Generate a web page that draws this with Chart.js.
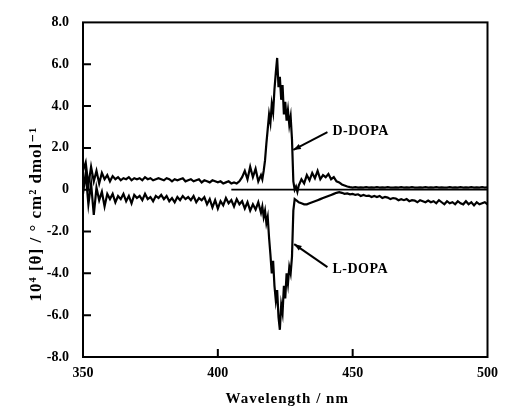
<!DOCTYPE html>
<html>
<head>
<meta charset="utf-8">
<script src="https://cdn.jsdelivr.net/npm/chart.js@4"></script>
<style>
  html, body { margin: 0; padding: 0; background: #fff; }
  #wrap { width: 506px; height: 410px; }
</style>
</head>
<body>
<div id="wrap"><canvas id="cdChart" width="506" height="410"></canvas></div>
<script>
// wavelength grid (nm), finer around the 420-430 nm band
const wavelength = [
  350, 351, 352, 353, 354, 355, 356, 357, 358, 359,
  360, 361, 362, 363, 364, 365, 366, 367, 368, 369,
  370, 371, 372, 373, 374, 375, 376, 377, 378, 379,
  380, 381, 382, 383, 384, 385, 386, 387, 388, 389,
  390, 391, 392, 393, 394, 395, 396, 397, 398, 399,
  400, 401, 402, 403, 404, 405, 406, 407, 408, 409,
  410, 411, 412, 413, 414, 415, 416,
  416.5, 417, 417.5, 418, 418.5, 419, 419.5, 420, 420.5, 421,
  421.5, 422, 422.5, 423, 423.5, 424, 424.5, 425, 425.5, 426,
  426.5, 427, 427.5, 428, 428.5, 429, 429.5,
  430, 431, 432, 433, 434, 435, 436, 437, 438, 439,
  440, 441, 442, 443, 444, 445, 446, 447, 448, 449,
  450, 451, 452, 453, 454, 455, 456, 457, 458, 459,
  460, 461, 462, 463, 464, 465, 466, 467, 468, 469,
  470, 471, 472, 473, 474, 475, 476, 477, 478, 479,
  480, 481, 482, 483, 484, 485, 486, 487, 488, 489,
  490, 491, 492, 493, 494, 495, 496, 497, 498, 499, 500
];

// 10^4 [theta]
const dDopa = [
  0.9, 1.3, 0.2, 1.1, 0.4, 0.9, 0.3, 0.8, 0.5, 0.7,
  0.4, 0.65, 0.5, 0.6, 0.45, 0.55, 0.5, 0.6, 0.45, 0.55,
  0.5, 0.55, 0.45, 0.6, 0.5, 0.55, 0.45, 0.5, 0.55, 0.5,
  0.45, 0.55, 0.5, 0.4, 0.5, 0.45, 0.5, 0.55, 0.4, 0.45,
  0.5, 0.4, 0.45, 0.5, 0.35, 0.45, 0.4, 0.35, 0.45, 0.4,
  0.35, 0.4, 0.3, 0.35, 0.4, 0.3, 0.35, 0.3, 0.4, 0.6,
  0.9, 0.5, 1.1, 0.6, 1.0, 0.4, 0.7,
  0.5, 0.9, 1.4, 2.2, 2.9, 3.6, 3.2, 4.1, 3.7, 4.8,
  5.6, 6.3, 4.9, 5.4, 4.3, 5.0, 3.6, 4.2, 3.3, 3.8,
  3.1, 3.5, 2.4, 0.4, 0.0, 0.15, -0.1,
  0.2, 0.5, 0.3, 0.7, 0.45, 0.8, 0.55, 0.9, 0.5, 0.7,
  0.6, 0.75, 0.5, 0.6, 0.4, 0.35, 0.25, 0.2, 0.15, 0.12,
  0.1, 0.12, 0.1, 0.11, 0.1, 0.12, 0.1, 0.11, 0.1, 0.12,
  0.1, 0.11, 0.1, 0.12, 0.1, 0.1, 0.11, 0.1, 0.12, 0.1,
  0.11, 0.1, 0.12, 0.1, 0.1, 0.11, 0.1, 0.12, 0.1, 0.11,
  0.1, 0.12, 0.1, 0.11, 0.1, 0.1, 0.12, 0.1, 0.11, 0.1,
  0.12, 0.1, 0.11, 0.1, 0.12, 0.1, 0.11, 0.1, 0.12, 0.1, 0.11
];

const lDopa = [
  -0.2, 0.8, -0.7, 0.3, -1.2, 0.1, -0.5, -0.1, -0.8, -0.2,
  -0.45, -0.2, -0.6, -0.3, -0.45, -0.2, -0.55, -0.3, -0.65, -0.25,
  -0.4, -0.3, -0.5, -0.2, -0.45, -0.35, -0.55, -0.3, -0.4, -0.25,
  -0.45, -0.3, -0.55, -0.4, -0.6, -0.35, -0.5, -0.3, -0.45, -0.35,
  -0.5, -0.3, -0.6, -0.4, -0.5, -0.35, -0.7, -0.45, -0.85, -0.5,
  -0.9, -0.55, -0.75, -0.4, -0.65, -0.5, -0.8, -0.45, -0.7, -0.55,
  -0.9, -0.6, -1.0, -0.7, -0.95, -0.6, -1.1,
  -0.8, -1.3, -1.0, -1.6, -1.3, -2.3, -3.1, -4.0, -3.4, -4.6,
  -5.3, -4.8, -6.1, -6.7, -5.5, -5.9, -4.6, -5.2, -4.0, -4.5,
  -3.7, -4.0, -3.2, -1.0, -0.45, -0.5, -0.55,
  -0.6, -0.65, -0.7, -0.7, -0.65, -0.6, -0.55, -0.5, -0.45, -0.4,
  -0.35, -0.3, -0.25, -0.2, -0.15, -0.12, -0.15, -0.2, -0.18, -0.22,
  -0.2, -0.25, -0.22, -0.3, -0.25, -0.3, -0.28, -0.35, -0.3, -0.35,
  -0.3, -0.4, -0.35, -0.38, -0.45, -0.4, -0.42, -0.5, -0.45, -0.5,
  -0.45, -0.55, -0.5, -0.52, -0.6, -0.5, -0.55, -0.6, -0.52, -0.6,
  -0.55, -0.65, -0.5, -0.6, -0.7, -0.55, -0.65, -0.6, -0.7, -0.55,
  -0.65, -0.7, -0.55, -0.7, -0.6, -0.75, -0.6, -0.7, -0.65, -0.6, -0.7
];

// zero reference line
const zeroX = [405, 500];
const zeroY = [0, 0];

const xTicks = [350, 400, 450, 500];
const xTickLabels = ['350', '400', '450', '500'];
const yTicks = [-8, -6, -4, -2, 0, 2, 4, 6, 8];
const yTickLabels = ['-8.0', '-6.0', '-4.0', '-2.0', '0', '2.0', '4.0', '6.0', '8.0'];

const FONT = "'Liberation Serif', 'DejaVu Serif', serif";

function toPoints(xs, ys) {
    return xs.map((w, i) => ({ x: w, y: ys[i] }));
}

// frame, inward ticks, titles and the arrow labels
const decorPlugin = {
    id: 'decor',
    afterDraw(chart) {
        const ctx = chart.ctx;
        const area = chart.chartArea;
        const xs = chart.scales.x;
        const ys = chart.scales.y;
        ctx.save();
        ctx.strokeStyle = '#000';
        ctx.lineWidth = 2;
        ctx.strokeRect(area.left, area.top, area.right - area.left, area.bottom - area.top);

        ctx.lineWidth = 2;
        ctx.beginPath();
        yTicks.slice(1, -1).forEach(v => {
            const py = ys.getPixelForValue(v);
            ctx.moveTo(area.left, py);
            ctx.lineTo(area.left + 8, py);
        });
        xTicks.slice(1, -1).forEach(v => {
            const px = xs.getPixelForValue(v);
            ctx.moveTo(px, area.bottom);
            ctx.lineTo(px, area.bottom - 8);
        });
        ctx.stroke();

        ctx.fillStyle = '#000';
        ctx.textAlign = 'center';
        ctx.textBaseline = 'middle';
        ctx.font = 'bold 15px ' + FONT;
        ctx.letterSpacing = '1px';
        ctx.fillText('Wavelength / nm', (area.left + area.right) / 2 + 2, 399);

        ctx.save();
        ctx.translate(37, 214);
        ctx.rotate(-Math.PI / 2);
        ctx.font = 'bold 17px ' + FONT;
        ctx.letterSpacing = '1px';
        ctx.fillText('10\u2074 [\u03B8] / \u00B0 cm\u00B2 dmol\u207B\u00B9', 0, 0);
        ctx.restore();

        // annotations
        ctx.font = 'bold 14px ' + FONT;
        ctx.letterSpacing = '0.5px';
        ctx.textAlign = 'left';
        const dx = xs.getPixelForValue(442.5), dy = ys.getPixelForValue(2.8);
        const lx = xs.getPixelForValue(442.5), ly = ys.getPixelForValue(-3.8);
        ctx.fillText('D-DOPA', dx, dy);
        ctx.fillText('L-DOPA', lx, ly);
        ctx.letterSpacing = '0px';

        function arrow(x1, y1, x2, y2) {
            ctx.lineWidth = 2;
            ctx.beginPath();
            ctx.moveTo(x1, y1);
            ctx.lineTo(x2, y2);
            ctx.stroke();
            const a = Math.atan2(y2 - y1, x2 - x1);
            ctx.beginPath();
            ctx.moveTo(x2, y2);
            ctx.lineTo(x2 - 8 * Math.cos(a - 0.35), y2 - 8 * Math.sin(a - 0.35));
            ctx.lineTo(x2 - 8 * Math.cos(a + 0.35), y2 - 8 * Math.sin(a + 0.35));
            ctx.closePath();
            ctx.fill();
        }
        arrow(dx - 5, dy + 1, xs.getPixelForValue(428), ys.getPixelForValue(1.9));
        arrow(lx - 5, ly - 2, xs.getPixelForValue(428.3), ys.getPixelForValue(-2.6));
        ctx.restore();
    }
};

const ctx = document.getElementById('cdChart').getContext('2d');
new Chart(ctx, {
    type: 'line',
    data: {
        datasets: [
            {
                label: 'zero',
                data: toPoints(zeroX, zeroY),
                borderColor: '#000',
                borderWidth: 1.8,
                pointRadius: 0
            },
            {
                label: 'D-DOPA',
                data: toPoints(wavelength, dDopa),
                borderColor: '#000',
                borderWidth: 2.2,
                pointRadius: 0,
                tension: 0
            },
            {
                label: 'L-DOPA',
                data: toPoints(wavelength, lDopa),
                borderColor: '#000',
                borderWidth: 2.2,
                pointRadius: 0,
                tension: 0
            }
        ]
    },
    options: {
        responsive: false,
        animation: false,
        layout: { padding: { left: 0, right: 0, top: 19, bottom: 0 } },
        plugins: {
            legend: { display: false },
            tooltip: { enabled: false }
        },
        scales: {
            x: {
                type: 'linear',
                min: 350,
                max: 500,
                afterBuildTicks: s => { s.ticks = xTicks.map(v => ({ value: v })); },
                afterFit: s => { s.height = 53; },
                grid: { display: false, drawTicks: false },
                border: { display: false },
                ticks: {
                    color: '#000',
                    padding: 8,
                    maxRotation: 0,
                    font: { family: FONT, size: 14, weight: 'bold' },
                    callback: v => xTickLabels[xTicks.indexOf(v)]
                }
            },
            y: {
                min: -8,
                max: 8,
                afterBuildTicks: s => { s.ticks = yTicks.map(v => ({ value: v })); },
                afterFit: s => { s.width = 83; },
                grid: { display: false, drawTicks: false },
                border: { display: false },
                ticks: {
                    color: '#000',
                    padding: 14,
                    font: { family: FONT, size: 14, weight: 'bold' },
                    callback: v => yTickLabels[yTicks.indexOf(v)]
                }
            }
        }
    },
    plugins: [decorPlugin]
});
</script>
</body>
</html>
